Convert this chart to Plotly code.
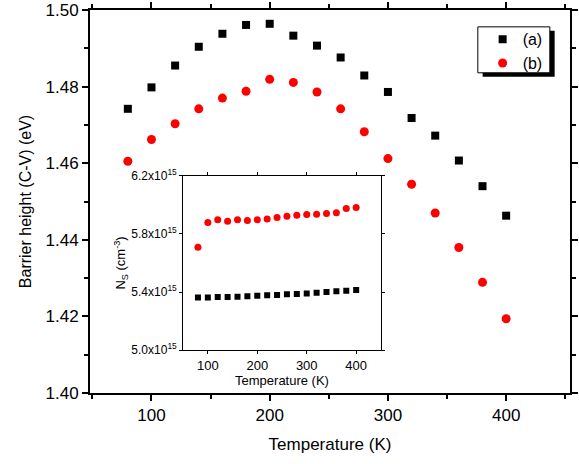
import plotly.graph_objects as go

temps = [80, 100, 120, 140, 160, 180, 200, 220, 240, 260, 280, 300, 320, 340, 360, 380, 400]
barrier_a = [1.4742, 1.4798, 1.4855, 1.4904, 1.4938, 1.4961, 1.4964, 1.4933, 1.4907,
             1.4876, 1.4829, 1.4786, 1.4718, 1.4672, 1.4607, 1.4540, 1.4463]
barrier_b = [1.4605, 1.4662, 1.4703, 1.4742, 1.4770, 1.4788, 1.4819, 1.4811, 1.4786,
             1.4742, 1.4682, 1.4612, 1.4545, 1.4470, 1.4380, 1.4289, 1.4194]
ns_a = [5.363, 5.363, 5.365, 5.365, 5.368, 5.370, 5.375, 5.377, 5.379,
        5.384, 5.386, 5.389, 5.395, 5.400, 5.405, 5.409, 5.414]
ns_b = [5.708, 5.878, 5.897, 5.888, 5.897, 5.892, 5.897, 5.903, 5.913,
        5.922, 5.929, 5.933, 5.936, 5.940, 5.945, 5.975, 5.982]
ns_a = [v * 1e15 for v in ns_a]
ns_b = [v * 1e15 for v in ns_b]
ns_ticks = [5.0e15, 5.4e15, 5.8e15, 6.2e15]
ns_labels = ["5.0x10<sup>15</sup>", "5.4x10<sup>15</sup>", "5.8x10<sup>15</sup>", "6.2x10<sup>15</sup>"]

fig = go.Figure()
fig.add_trace(go.Scatter(x=temps, y=barrier_a, mode="markers", name="(a)",
                         marker=dict(symbol="square", color="black", size=8)))
fig.add_trace(go.Scatter(x=temps, y=barrier_b, mode="markers", name="(b)",
                         marker=dict(symbol="circle", color="red", size=9)))
# inset
fig.add_trace(go.Scatter(x=temps, y=ns_a, mode="markers", showlegend=False, xaxis="x2", yaxis="y2",
                         marker=dict(symbol="square", color="black", size=6)))
fig.add_trace(go.Scatter(x=temps, y=ns_b, mode="markers", showlegend=False, xaxis="x2", yaxis="y2",
                         marker=dict(symbol="circle", color="red", size=7)))

axis_common = dict(showline=True, linecolor="black", mirror="allticks", ticks="outside",
                   showgrid=False, zeroline=False, color="black")
fig.update_layout(
    width=579, height=464,
    margin=dict(l=90, r=9, t=10, b=71, autoexpand=False),
    plot_bgcolor="white", paper_bgcolor="white",
    font=dict(family="Liberation Sans, Arial", color="black", size=17),
    xaxis=dict(range=[48, 454], tickvals=[100, 200, 300, 400], linewidth=2, tickwidth=2, ticklen=6,
               minor=dict(dtick=50, ticks="outside", ticklen=4, tickwidth=1.5),
               title=dict(text="Temperature (K)", font=dict(size=17), standoff=14), **axis_common),
    yaxis=dict(range=[1.40, 1.50], dtick=0.02, tickformat=".2f", linewidth=2, tickwidth=2, ticklen=6,
               minor=dict(dtick=0.01, ticks="outside", ticklen=4, tickwidth=1.5),
               title=dict(text="Barrier height (C-V) (eV)", font=dict(size=16), standoff=10), **axis_common),
    xaxis2=dict(domain=[0.194, 0.606], anchor="y2", range=[50, 450], tickvals=[100, 200, 300, 400],
                linewidth=1, ticklen=3, tickfont=dict(size=13),
                title=dict(text="Temperature (K)", font=dict(size=13), standoff=2), **axis_common),
    yaxis2=dict(domain=[0.112, 0.567], anchor="x2", range=[5.0e15, 6.2e15], tickvals=ns_ticks,
                ticktext=ns_labels, linewidth=1, ticklen=3, tickfont=dict(size=12),
                title=dict(text="N<sub>S</sub> (cm<sup>-3</sup>)", font=dict(size=13), standoff=2),
                **axis_common),
    legend=dict(x=0.818, y=0.968, xanchor="left", yanchor="top", bgcolor="rgba(0,0,0,0)",
                borderwidth=0, font=dict(size=16), tracegroupgap=0, itemwidth=30),
    shapes=[
        dict(type="rect", xref="x2 domain", yref="y2 domain", x0=0, x1=1, y0=0, y1=1,
             fillcolor="white", line=dict(width=0), layer="below"),
        # legend box with drop shadow
        dict(type="rect", xref="paper", yref="paper", x0=0.818, x1=0.968, y0=0.826, y1=0.946,
             fillcolor="black", line=dict(width=0), layer="above"),
        dict(type="rect", xref="paper", yref="paper", x0=0.808, x1=0.958, y0=0.836, y1=0.956,
             fillcolor="white", line=dict(color="black", width=1), layer="above"),
    ],
)
fig.write_html("out.html", config=dict(displayModeBar=False),
               post_script="document.body.style.margin='0';document.body.style.overflow='hidden';")
